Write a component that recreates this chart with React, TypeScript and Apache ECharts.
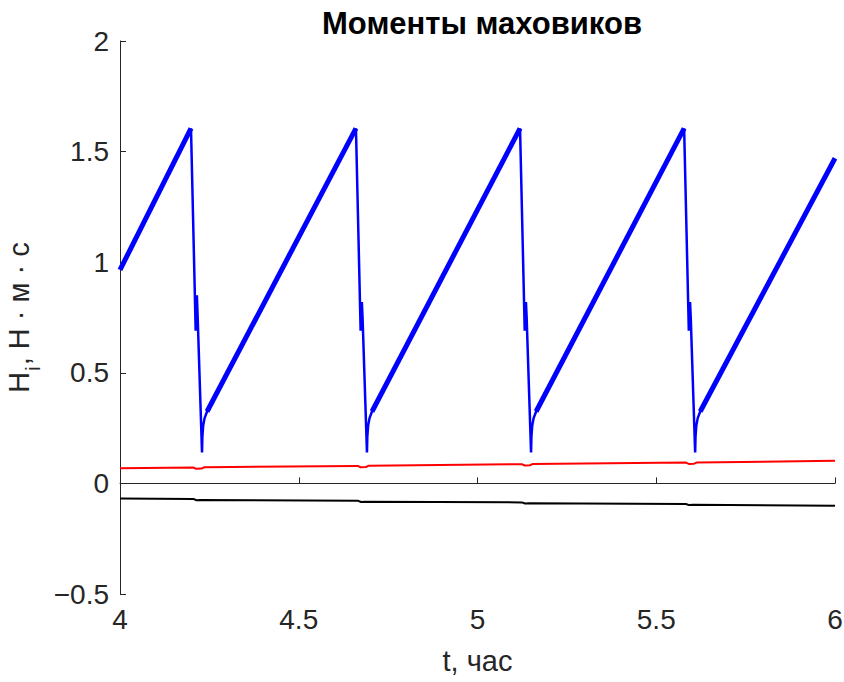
import React, { useEffect, useRef } from "react";
import * as echarts from "echarts";

// x: time, hours; y: H_i, N·m·s
const xTicks = [4, 4.5, 5, 5.5, 6];
const yTicks = [-0.5, 0, 0.5, 1, 1.5, 2];

// Blue wheel: thick linear ramps
const blueRamps: [number, number][][] = [
  [[4.0, 0.965], [4.1986, 1.605]],
  [[4.2436, 0.325], [4.66, 1.605]],
  [[4.705, 0.325], [5.119, 1.605]],
  [[5.164, 0.325], [5.578, 1.605]],
  [[5.623, 0.325], [6.0, 1.47]],
];

// Blue wheel: thin unloading drops
const blueDrops: [number, number][][] = [
  [[4.1986, 1.605], [4.2117, 0.69], [4.2151, 0.85], [4.2171, 0.76], [4.2294, 0.14], [4.2304, 0.21], [4.2326, 0.26], [4.2366, 0.295], [4.2436, 0.325], [4.2506, 0.35], [4.2566, 0.37]],
  [[4.66, 1.605], [4.6731, 0.69], [4.6765, 0.82], [4.6785, 0.75], [4.6908, 0.14], [4.6918, 0.21], [4.694, 0.26], [4.698, 0.295], [4.705, 0.325], [4.712, 0.35], [4.718, 0.37]],
  [[5.119, 1.605], [5.1321, 0.69], [5.1355, 0.82], [5.1375, 0.75], [5.1498, 0.14], [5.1508, 0.21], [5.153, 0.26], [5.157, 0.295], [5.164, 0.325], [5.171, 0.35], [5.177, 0.37]],
  [[5.578, 1.605], [5.5911, 0.69], [5.5945, 0.82], [5.5965, 0.75], [5.6088, 0.14], [5.6098, 0.21], [5.612, 0.26], [5.616, 0.295], [5.623, 0.325], [5.63, 0.35], [5.636, 0.37]],
];

// Red wheel
const redT = [4.0, 4.205, 4.213, 4.228, 4.236, 4.665, 4.673, 4.688, 4.696, 5.124, 5.132, 5.147, 5.155, 5.583, 5.591, 5.606, 5.614, 6.0];
const redV = [0.069, 0.072, 0.066, 0.067, 0.073, 0.079, 0.073, 0.074, 0.08, 0.087, 0.081, 0.082, 0.088, 0.094, 0.088, 0.089, 0.095, 0.102];

// Black wheel
const blackT = [4.0, 4.205, 4.214, 4.225, 4.665, 4.674, 4.685, 5.124, 5.133, 5.144, 5.583, 5.592, 5.603, 6.0];
const blackV = [-0.068, -0.07, -0.076, -0.075, -0.078, -0.084, -0.083, -0.086, -0.091, -0.09, -0.093, -0.098, -0.097, -0.101];

const FONT = "'Liberation Sans', Arial, Helvetica, sans-serif";
const AX = "#262626";

const fmt = (v: number) => (v < 0 ? "\u2212" + String(-v) : String(v));

export default function App() {
  const ref = useRef<HTMLDivElement>(null);
  useEffect(() => {
    document.body.style.margin = "0";
    if (!ref.current) return;
    const chart = echarts.init(ref.current, null, { renderer: "svg" });
    const series: any[] = [];
    blueRamps.forEach((seg) =>
      series.push({
        type: "line",
        data: seg,
        showSymbol: false,
        symbol: "none",
        lineStyle: { color: "#0000FF", width: 5 },
        z: 3,
      })
    );
    blueDrops.forEach((seg) =>
      series.push({
        type: "line",
        data: seg,
        showSymbol: false,
        symbol: "none",
        lineStyle: { color: "#0000FF", width: 2.5 },
        z: 3,
      })
    );
    series.push({
      type: "line",
      data: redT.map((t, i) => [t, redV[i]]),
      symbol: "none",
      lineStyle: { color: "#FF0000", width: 2 },
      z: 2,
    });
    series.push({
      type: "line",
      data: blackT.map((t, i) => [t, blackV[i]]),
      symbol: "none",
      lineStyle: { color: "#000000", width: 2 },
      z: 2,
    });

    chart.setOption({
      animation: false,
      backgroundColor: "#ffffff",
      title: {
        text: "Моменты маховиков",
        left: 477,
        textAlign: "center",
        top: 3,
        textStyle: { fontFamily: FONT, fontSize: 31, fontWeight: "bold", color: "#000" },
      },
      grid: { left: 120, right: 9, top: 41, bottom: 88, containLabel: false, outerBoundsMode: "none" },
      xAxis: {
        type: "value",
        min: xTicks[0],
        max: xTicks[xTicks.length - 1],
        interval: 0.5,
        name: "t, час",
        nameLocation: "middle",
        nameGap: 52,
        nameTextStyle: { fontFamily: FONT, fontSize: 29, color: AX },
        axisLine: { show: true, lineStyle: { color: AX, width: 1 } },
        axisTick: { show: true, inside: true, length: 6, lineStyle: { color: AX } },
        axisLabel: { fontFamily: FONT, fontSize: 28, color: AX, margin: 11, formatter: fmt },
        splitLine: { show: false },
      },
      yAxis: {
        type: "value",
        min: yTicks[0],
        max: yTicks[yTicks.length - 1],
        interval: 0.5,
        name: "{a|H}{b|i}{a|, Н · м · с}",
        nameLocation: "middle",
        nameGap: 66,
        nameTextStyle: {
          fontFamily: FONT,
          color: AX,
          rich: {
            a: { fontFamily: FONT, fontSize: 29, color: AX, lineHeight: 32 },
            b: { fontFamily: FONT, fontSize: 20, color: AX, lineHeight: 20, padding: [28, 1, 0, 1] },
          },
        },
        axisLine: { show: true, lineStyle: { color: AX, width: 1 } },
        axisTick: { show: true, inside: true, length: 6, lineStyle: { color: AX } },
        axisLabel: { fontFamily: FONT, fontSize: 28, color: AX, margin: 11, formatter: fmt },
        splitLine: { show: false },
      },
      series,
    });
    return () => chart.dispose();
  }, []);
  return <div ref={ref} style={{ width: 844, height: 682 }} />;
}
